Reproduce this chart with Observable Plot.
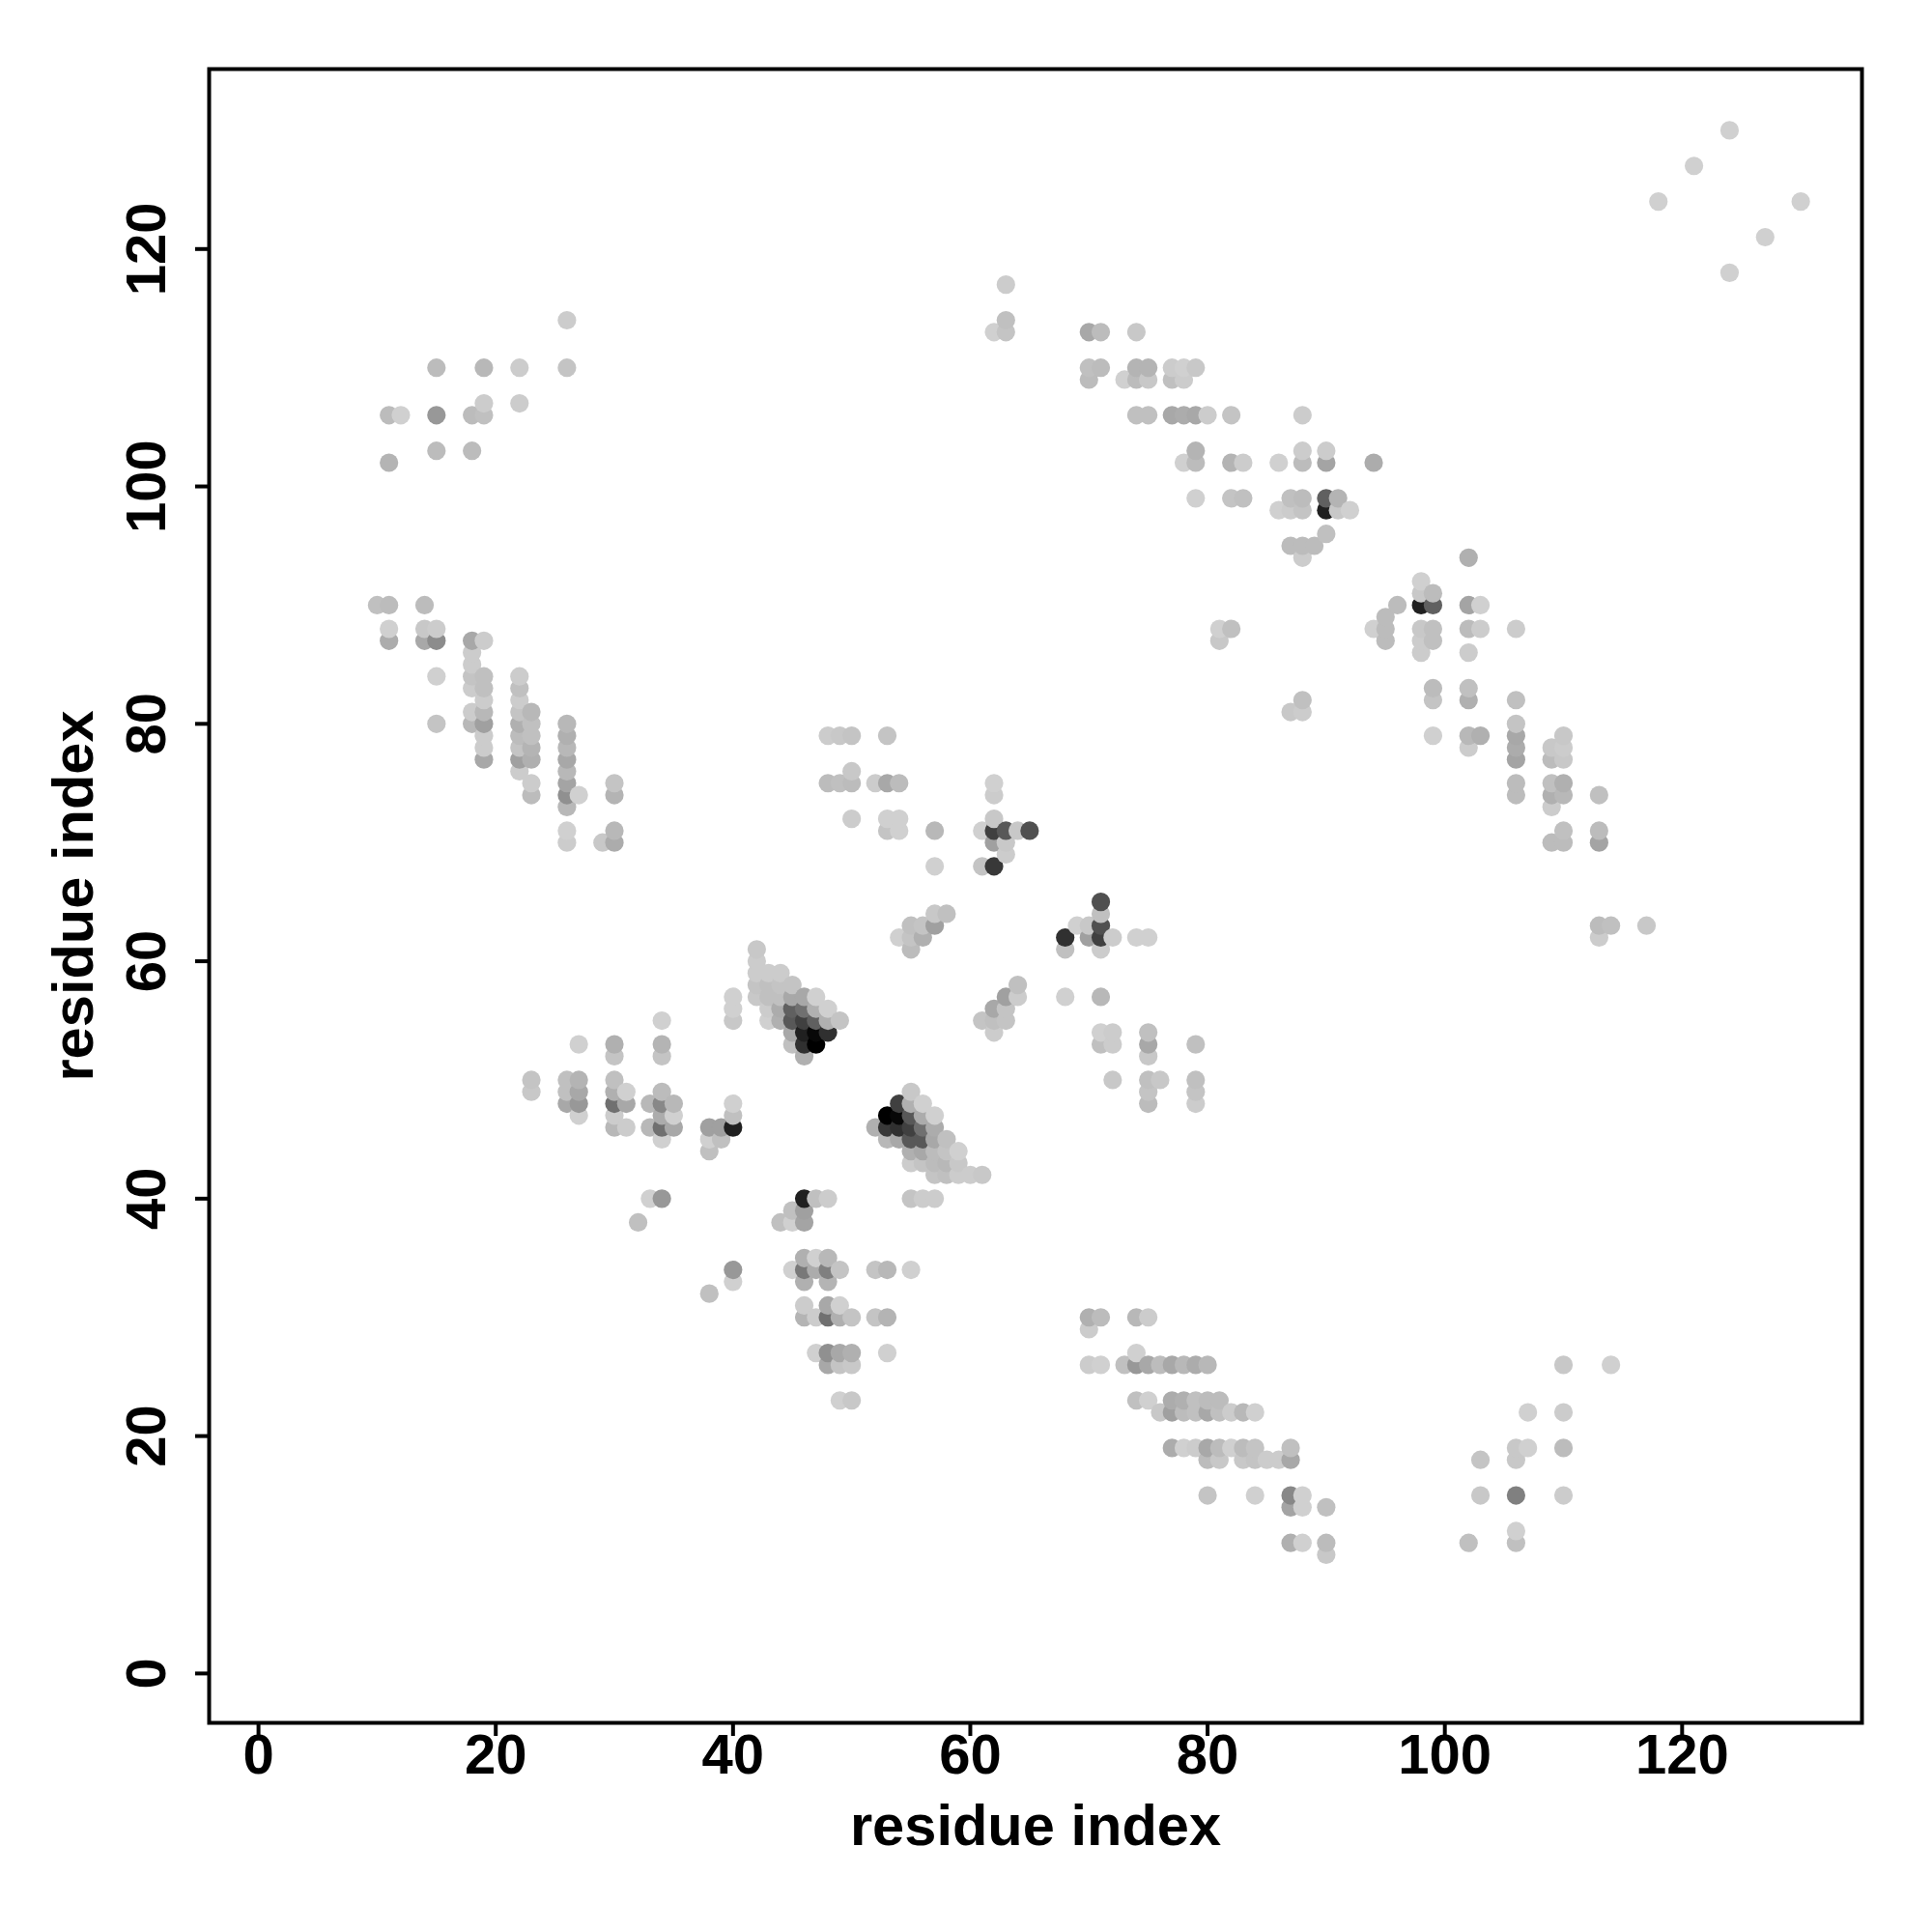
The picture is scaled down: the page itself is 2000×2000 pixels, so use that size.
<!DOCTYPE html>
<html>
<head>
<meta charset="utf-8">
<script src="https://cdn.jsdelivr.net/npm/d3@7"></script>
<script src="https://cdn.jsdelivr.net/npm/@observablehq/plot@0.6"></script>
<style>html,body{margin:0;padding:0;background:#fff}svg{display:block}</style>
</head>
<body>
<div id="chart"></div>
<script>
// [residue i, residue j, contact strength 0-255]
const farCorner = [[124,130,47],[121,127,47],[118,124,47],[130,124,47],[127,121,47],[124,118,47]];
const upperLeft = [
[26,114,51],[15,110,67],[19,110,71],[22,110,51],[26,110,59],[19,107,51],[22,107,51],[11,106,67],[12,106,47],[15,106,103],[18,106,67],[19,106,63],[15,103,67],[18,103,67],[11,102,75]];
const helixLeft = [
[10,90,63],[11,90,67],[14,90,67],[11,88,47],[14,88,55],[15,88,51],[11,87,83],[14,87,87],[15,87,115],[18,87,87],[19,87,51],[18,86,51],[18,85,51],
[15,84,47],[18,84,59],[19,84,63],[22,84,51],[18,83,51],[19,83,63],[22,83,63],[19,82,51],[22,82,51],[18,81,51],[19,81,71],[22,81,59],[23,81,71],
[15,80,59],[18,80,71],[19,80,95],[22,80,79],[23,80,63],[26,80,71],[19,79,51],[22,79,67],[23,79,63],[26,79,79],[19,78,51],[22,78,59],[23,78,75],[26,78,71],
[19,77,87],[22,77,95],[23,77,79],[26,77,87],[22,76,51],[26,76,71],[23,75,51],[26,75,91],[30,75,59],[23,74,67],[26,74,111],[27,74,47],[30,74,75],[26,73,71],
[26,71,47],[30,71,71],[26,70,51],[29,70,55],[30,70,83]];
const upperMiddle = [
[62,113,47],[63,113,59],[63,114,63],[63,117,51],
[70,113,87],[71,113,67],[74,113,55],[70,110,63],[71,110,67],[74,110,75],[75,110,75],[77,110,51],[78,110,47],[79,110,55],
[70,109,67],[73,109,47],[74,109,67],[75,109,55],[77,109,63],[78,109,51],[74,106,63],[75,106,63],[77,106,87],[78,106,83],[79,106,87],[80,106,51],[82,106,59],[88,106,51],
[79,103,75],[88,103,51],[90,103,51],[78,102,47],[79,102,67],[82,102,75],[83,102,51],[86,102,47],[88,102,67],[90,102,91],[94,102,83],
[79,99,47],[82,99,59],[83,99,63],[87,99,63],[88,99,67],[90,99,159],[91,99,75],[86,98,47],[87,98,51],[88,98,59],[90,98,223],[91,98,55],[92,98,47],
[90,96,63],[87,95,67],[88,95,67],[89,95,67],[88,94,51],[81,88,47],[82,88,63],[81,87,55],[87,81,55],[88,81,51],[88,82,63]];
const helixRight = [
[102,94,79],[98,92,47],[98,91,55],[99,91,67],[96,90,67],[98,90,223],[99,90,159],[102,90,91],[103,90,47],[95,89,67],
[94,88,47],[95,88,67],[98,88,55],[99,88,63],[102,88,67],[103,88,51],[106,88,51],[95,87,67],[98,87,51],[99,87,63],[98,86,51],[102,86,51],
[99,83,67],[102,83,63],[99,82,59],[102,82,79],[106,82,63],[106,80,59],[99,79,47],[102,79,71],[103,79,79],[106,79,87],[110,79,55],
[102,78,51],[106,78,83],[109,78,55],[110,78,51],[106,77,91],[109,77,67],[110,77,55],[106,75,67],[109,75,63],[110,75,79],
[106,74,67],[109,74,79],[110,74,71],[113,74,63],[109,73,51],[110,71,63],[113,71,67],[109,70,67],[110,70,67],[113,70,91],
[113,63,67],[114,63,63],[113,62,51],[117,63,55]];
const centerUpper = [
[48,79,51],[49,79,55],[50,79,59],[53,79,59],[50,76,55],[48,75,67],[49,75,63],[50,75,67],[52,75,51],[53,75,87],[54,75,67],[62,75,47],[62,74,51],
[50,72,51],[53,72,47],[54,72,47],[62,72,55],[53,71,59],[54,71,47],[57,71,71],[61,71,47],[62,71,191],[63,71,167],[64,71,55],[65,71,175],
[62,70,95],[63,70,55],[63,69,51],[57,68,47],[61,68,59],[62,68,199],
[71,65,175],[57,64,55],[58,64,63],[71,64,63],[55,63,63],[56,63,59],[57,63,95],[69,63,47],[70,63,55],[71,63,175],
[54,62,47],[55,62,59],[56,62,79],[68,62,207],[70,62,95],[71,62,191],[72,62,51],[74,62,47],[75,62,47],[55,61,67],[68,61,63],[71,61,51],
[64,58,63],[63,57,95],[64,57,51],[68,57,47],[71,57,71],[62,56,87],[63,56,59],[61,55,59],[62,55,63],[63,55,59],[62,54,51],
[71,54,47],[72,54,51],[75,54,63],[71,53,63],[72,53,51],[75,53,87],[79,53,63],[75,52,55],[72,50,55],[75,50,63],[76,50,55],[79,50,63],[75,49,59],[79,49,59],[75,48,67],[79,48,51]];
const clusterLeft = [
[42,61,55],[42,60,51],[42,59,51],[43,59,51],[44,59,51],[42,58,59],[43,58,63],[44,58,59],[45,58,59],
[40,57,47],[42,57,55],[43,57,63],[44,57,63],[45,57,87],[46,57,87],[47,57,47],
[40,56,47],[43,56,51],[44,56,83],[45,56,159],[46,56,143],[47,56,79],[48,56,47],
[40,55,55],[43,55,47],[44,55,79],[45,55,167],[46,55,191],[47,55,159],[48,55,79],[49,55,59],
[45,54,87],[46,54,223],[47,54,247],[48,54,207],[45,53,63],[46,53,207],[47,53,255],[46,52,79]];
const clusterRight = [
[55,49,55],[54,48,191],[55,48,79],[56,48,47],[53,47,255],[54,47,247],[55,47,167],[56,47,83],[57,47,47],
[52,46,79],[53,46,199],[54,46,207],[55,46,191],[56,46,143],[57,46,83],[53,45,71],[54,45,87],[55,45,167],[56,45,167],[57,45,87],[58,45,63],
[55,44,79],[56,44,87],[57,44,67],[58,44,59],[59,44,47],[55,43,51],[56,43,59],[57,43,67],[58,43,71],[59,43,55],
[57,42,59],[58,42,63],[59,42,51],[60,42,51],[61,42,55],[55,40,59],[56,40,51],[57,40,51]];
const lowerLeft = [
[34,55,47],[27,53,47],[30,53,79],[34,53,75],[30,52,59],[34,52,59],[23,50,59],[26,50,63],[27,50,75],[30,50,63],[23,49,55],[26,49,63],[27,49,87],[30,49,79],[31,49,47],[34,49,67],
[26,48,87],[27,48,103],[30,48,143],[31,48,87],[33,48,71],[34,48,119],[35,48,71],[27,47,47],[30,47,51],[34,47,83],[35,47,47],
[30,46,71],[31,46,51],[33,46,71],[34,46,143],[35,46,87],[38,46,95],[39,46,95],[40,46,223],[40,48,47],[40,47,63],[34,45,47],[38,45,47],[39,45,63],[38,44,63],
[33,40,47],[34,40,103],[32,38,63]];
const lowerMiddle = [
[46,40,223],[47,40,63],[48,40,51],[45,39,63],[46,39,95],[44,38,63],[45,38,47],[46,38,91],
[46,35,79],[47,35,47],[48,35,71],[45,34,47],[46,34,135],[47,34,83],[48,34,127],[49,34,59],[52,34,59],[53,34,71],[55,34,47],[40,34,103],[40,33,47],[38,32,63],
[46,33,79],[48,33,75],[46,31,51],[48,31,87],[49,31,47],[46,30,75],[47,30,51],[48,30,143],[49,30,79],[50,30,59],[52,30,59],[53,30,75],
[47,27,47],[48,27,111],[49,27,87],[50,27,79],[53,27,47],[48,26,87],[49,26,59],[50,26,55],[49,23,47],[50,23,55]];
const lowerRight = [
[70,30,79],[71,30,67],[70,29,51],[74,30,71],[75,30,51],[74,27,47],
[70,26,51],[71,26,47],[73,26,63],[74,26,103],[75,26,87],[76,26,67],[77,26,87],[78,26,71],[79,26,83],[80,26,71],
[74,23,63],[75,23,47],[77,23,83],[78,23,79],[79,23,63],[80,23,67],[81,23,67],
[76,22,55],[77,22,95],[78,22,67],[79,22,63],[80,22,87],[81,22,63],[82,22,51],[83,22,71],[84,22,47],
[77,19,83],[78,19,47],[79,19,51],[80,19,87],[81,19,67],[82,19,47],[83,19,67],[84,19,59],[87,19,63],
[80,18,67],[81,18,55],[83,18,55],[84,18,59],[85,18,51],[86,18,51],[87,18,87],
[80,15,59],[84,15,47],[87,15,119],[88,15,47],[87,14,91],[88,14,47],[90,14,63],[87,11,79],[88,11,47],[90,11,67],[90,10,55],
[102,11,63],[103,18,59],[103,15,55],[106,19,55],[107,19,47],[106,18,55],[106,15,127],[106,12,47],[106,11,63],[107,22,47],
[110,26,55],[110,22,51],[110,19,67],[110,15,51],[114,26,47]];

const tickValues = [0,20,40,60,80,100,120];
const axisLabel = "residue index";
const domain = [-4.16,135.16];

const contacts = d3.sort(
  [...farCorner,...upperLeft,...helixLeft,...upperMiddle,...helixRight,...centerUpper,...clusterLeft,...clusterRight,...lowerLeft,...lowerMiddle,...lowerRight]
    .map(([i,j,w]) => ({i,j,w})),
  d => d.i, d => d.j);

const chart = Plot.plot({
  width: 2000,
  height: 2000,
  marginLeft: 216,
  marginRight: 73,
  marginTop: 71,
  marginBottom: 217,
  style: {fontFamily: "'Liberation Sans', Arial, sans-serif", fontWeight: "bold", fontSize: "58px", color: "#000", background: "#fff"},
  x: {domain},
  y: {domain},
  color: {type: "linear", domain: [0,255], range: ["#ffffff","#000000"]},
  marks: [
    Plot.dot(contacts, {x: "i", y: "j", fill: "w", r: 9.6, stroke: "none"}),
    Plot.frame({stroke: "#000", strokeWidth: 4}),
    Plot.axisX({ticks: tickValues, tickSize: 14, tickPadding: -3, strokeWidth: 4, label: null}),
    Plot.axisY({ticks: tickValues, tickSize: 14, tickPadding: 32, strokeWidth: 4, tickRotate: -90, label: null}),
    Plot.axisX([], {tickSize: 0, fontSize: 59.6, label: axisLabel, labelAnchor: "center", labelArrow: "none", labelOffset: 126}),
    Plot.axisY([], {tickSize: 0, fontSize: 59.6, label: axisLabel, labelAnchor: "center", labelArrow: "none", labelOffset: 163})
  ]
});
document.getElementById("chart").appendChild(chart);
</script>
</body>
</html>
